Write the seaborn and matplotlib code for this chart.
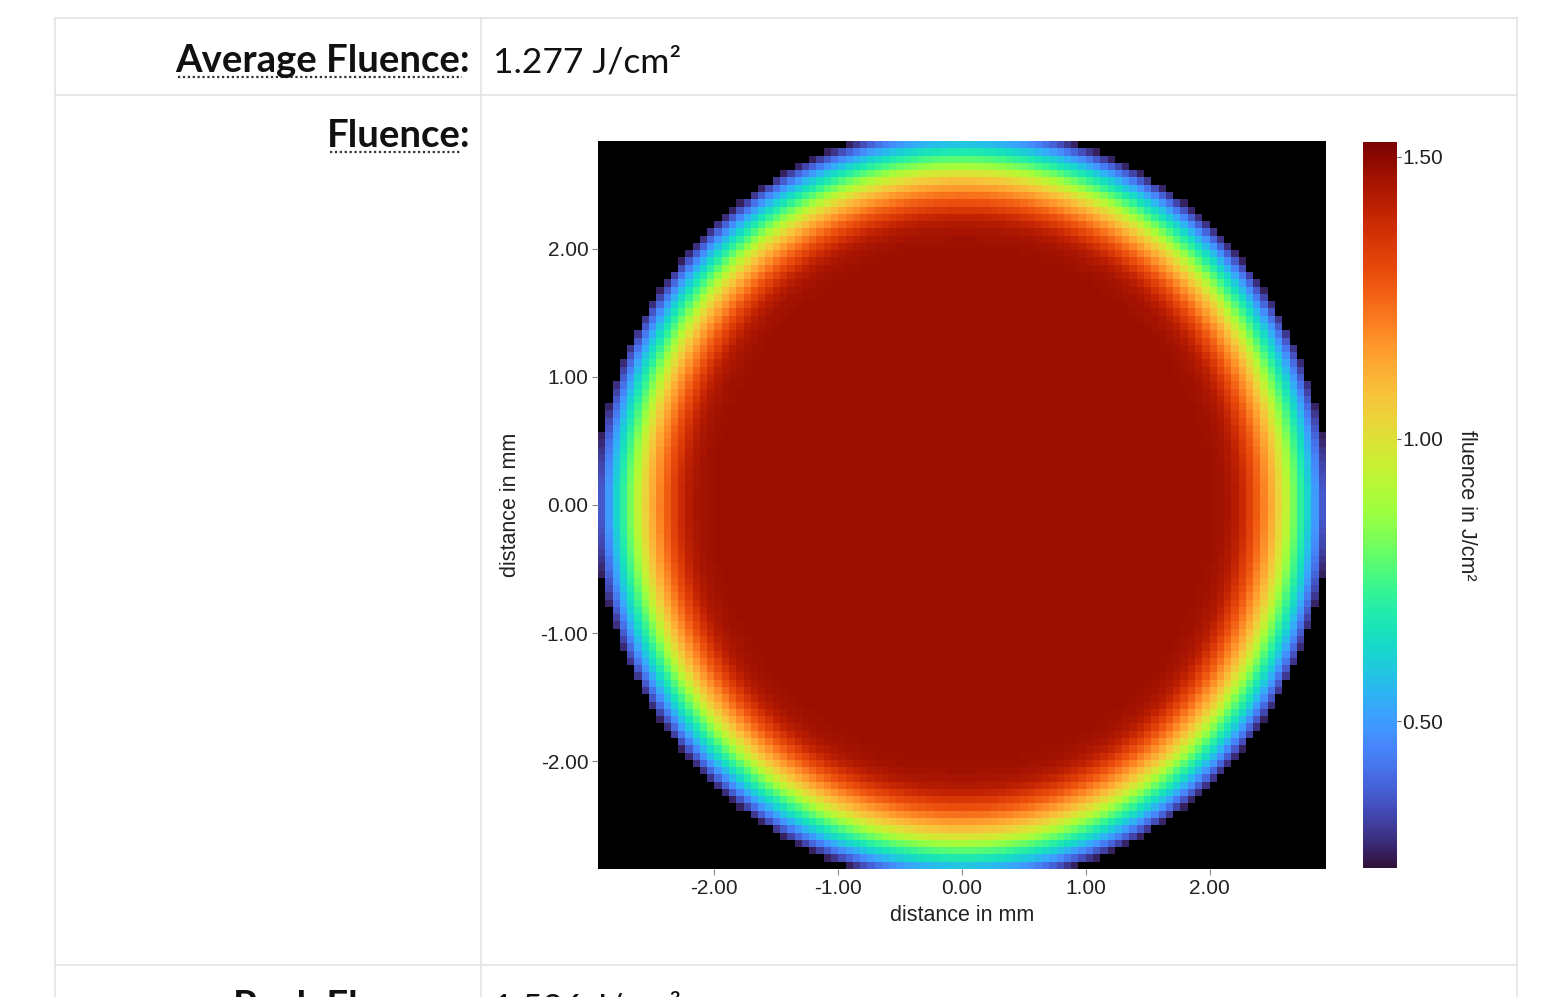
import numpy as np
import pandas as pd
import matplotlib
matplotlib.use("Agg")
import matplotlib.pyplot as plt
from matplotlib.lines import Line2D
import seaborn as sns

# ---------------- data ----------------
avg_label = "Average Fluence:"
avg_value = "1.277 J/cm²"
map_label = "Fluence:"
peak_label = "Peak Fluence:"
peak_value = "1.526 J/cm²"

# grid extent (mm) and number of cells
x_min, x_max, nx = -2.94, 2.94, 100
y_min, y_max, ny = -2.84, 2.84, 100

# radial fluence profile of the (circular) beam, read along the centre row
profile_r_mm = [0.00, 1.80, 2.00, 2.087, 2.146, 2.205, 2.264, 2.322, 2.381, 2.440,
                2.499, 2.558, 2.617, 2.675, 2.734, 2.793, 2.852, 2.911, 2.955]
profile_fluence = [1.475, 1.475, 1.472, 1.465, 1.452, 1.43, 1.39, 1.33, 1.27, 1.20,
                   1.13, 1.04, 0.94, 0.82, 0.72, 0.62, 0.50, 0.37, 0.27]
beam_edge_mm = 2.962

vmin, vmax = 0.24, 1.526
x_ticks = [-2.0, -1.0, 0.0, 1.0, 2.0]
y_ticks = [2.0, 1.0, 0.0, -1.0, -2.0]
cbar_ticks = [0.5, 1.0, 1.5]

# ---------------- build grid ----------------
dx = (x_max - x_min) / nx
dy = (y_max - y_min) / ny
xc = x_min + dx * (np.arange(nx) + 0.5)
yc = y_max - dy * (np.arange(ny) + 0.5)
XX, YY = np.meshgrid(xc, yc)
RR = np.hypot(XX, YY)
Z = np.interp(RR, profile_r_mm, profile_fluence)
Z[RR > beam_edge_mm] = np.nan
df = pd.DataFrame(Z, index=np.round(yc, 3), columns=np.round(xc, 3))

# ---------------- figure ----------------
W, H = 1545, 997
fig = plt.figure(figsize=(W / 100, H / 100), dpi=100)
fig.patch.set_facecolor("white")

def fx(px):
    return px / W

def fy(py):
    return 1 - py / H

# table grid lines
line_col = "#e3e3e3"
for yy in [18, 95, 965]:
    fig.add_artist(Line2D([fx(55), fx(1517)], [fy(yy), fy(yy)], color=line_col, lw=1.2))
for xx in [55, 481, 1517]:
    fig.add_artist(Line2D([fx(xx), fx(xx)], [fy(18), fy(997)], color=line_col, lw=1.2))

head_font = ["Lato", "DejaVu Sans"]
txt_col = "#111111"
fig.text(fx(470), fy(72), avg_label, ha="right", va="baseline", fontsize=27.5,
         fontweight="bold", family=head_font, color=txt_col)
fig.text(fx(493), fy(72), avg_value, ha="left", va="baseline", fontsize=25.5,
         family=head_font, color=txt_col)
fig.text(fx(470), fy(147), map_label, ha="right", va="baseline", fontsize=27.5,
         fontweight="bold", family=head_font, color=txt_col)
fig.text(fx(470), fy(1018), peak_label, ha="right", va="baseline", fontsize=27.5,
         fontweight="bold", family=head_font, color=txt_col)
fig.text(fx(493), fy(1018), peak_value, ha="left", va="baseline", fontsize=25.5,
         family=head_font, color=txt_col)
# dotted underlines (abbr style)
fig.add_artist(Line2D([fx(178), fx(462)], [fy(77), fy(77)], color="#333333", lw=1.6,
                      ls=(0, (1, 1.2))))
fig.add_artist(Line2D([fx(330), fx(462)], [fy(152), fy(152)], color="#333333", lw=1.6,
                      ls=(0, (1, 1.2))))

# heatmap axes
ax = fig.add_axes([fx(598), fy(869), fx(1326) - fx(598), fy(141) - fy(869)])
cax = fig.add_axes([fx(1363), fy(868), fx(1397) - fx(1363), fy(142) - fy(868)])
ax.set_facecolor("black")

sns.heatmap(df, ax=ax, cbar_ax=cax, cmap="turbo", vmin=vmin, vmax=vmax,
            xticklabels=False, yticklabels=False,
            cbar_kws={"ticks": cbar_ticks, "format": "%.2f"})

tick_font = "Liberation Sans"
fs = 15
ax.set_xticks([(t - x_min) / dx for t in x_ticks])
ax.set_xticklabels([f"{t:.2f}" for t in x_ticks], fontsize=fs, family=tick_font, color="#222222")
ax.set_yticks([(y_max - t) / dy for t in y_ticks])
ax.set_yticklabels([f"{t:.2f}" for t in y_ticks], fontsize=fs, family=tick_font,
                   color="#222222", rotation=0)
ax.tick_params(axis="both", length=4, width=0.8, color="#888888", direction="out", pad=3,
               bottom=True, left=True)
ax.set_xlabel("distance in mm", fontsize=15.5, family=tick_font, color="#222222", labelpad=5)
ax.set_ylabel("distance in mm", fontsize=15.5, family=tick_font, color="#222222", labelpad=14)

cax.tick_params(labelsize=fs, length=3, width=0.8, color="#666666", pad=1)
for lab in cax.get_yticklabels():
    lab.set_family(tick_font)
    lab.set_color("#222222")
cax.set_ylabel("fluence in J/cm²", rotation=270, fontsize=15.5, family=tick_font,
               color="#222222", labelpad=24)

fig.savefig("out.png", dpi=100)
